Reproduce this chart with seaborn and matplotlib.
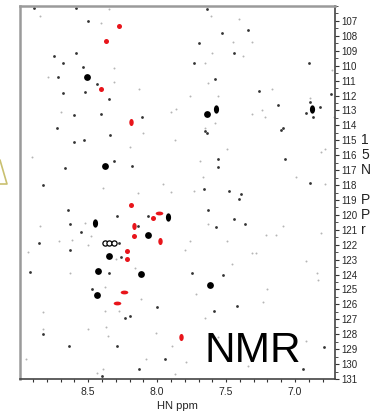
import matplotlib
matplotlib.use("Agg")
import matplotlib.pyplot as plt
import seaborn as sns
import numpy as np
from matplotlib.path import Path
from matplotlib.lines import Line2D
from matplotlib.ticker import MultipleLocator

# ------------------------------
# Peak lists (HN ppm, 15N ppm)
# ------------------------------
red_round_x = [8.28, 8.37, 8.41, 8.19, 8.03, 8.17, 8.22, 8.22]
red_round_y = [107.35, 108.33, 111.59, 119.34, 120.19, 121.43, 122.44, 122.95]
red_tall_x = [8.19, 8.17, 7.98, 7.83]
red_tall_y = [113.78, 120.74, 121.75, 128.18]
red_wide_x = [7.99, 8.24, 8.29]
red_wide_y = [119.85, 125.16, 125.88]

big_round_x = [8.51, 8.07, 8.35, 8.43, 8.12, 8.44, 7.62, 7.64, 8.38]
big_round_y = [110.79, 121.35, 122.76, 123.77, 123.96, 125.35, 124.70, 113.26, 116.70]
big_tall_x = [7.57, 6.88, 8.45, 7.92]
big_tall_y = [112.90, 112.90, 120.52, 120.12]

ring_x = [8.38, 8.35, 8.31]
ring_y = [121.86, 121.86, 121.86]

mid_x = [8.89, 8.59, 8.50, 8.59, 8.75, 8.54, 8.52, 8.60, 8.11, 7.64, 7.53, 7.70,
         7.34, 7.44, 7.73, 6.90, 6.92, 6.87, 7.26, 7.12, 8.29, 8.07, 8.14, 8.63,
         8.55, 8.63, 8.26, 7.56, 7.56, 7.07, 7.66, 7.48, 7.39, 7.41, 6.89, 7.63,
         7.44, 7.36, 7.57, 7.10, 8.92, 8.35, 8.00, 8.23, 8.20, 8.83, 8.64, 8.29,
         7.94, 8.13, 8.40, 7.75, 7.52, 7.59, 7.42, 6.79, 6.94, 8.60, 8.53, 8.34,
         8.31, 8.18, 8.67, 8.83, 8.65, 8.86, 7.09, 8.41, 8.68, 8.35, 8.68, 8.72,
         8.73, 8.47, 7.65, 7.64, 6.74, 6.89, 6.82, 7.58, 8.44, 8.28]
mid_y = [106.16, 106.16, 107.00, 109.18, 109.36, 110.10, 111.77, 113.33, 113.42, 106.23, 107.80, 108.47,
         107.62, 109.18, 109.80, 109.80, 113.20, 113.42, 111.70, 112.66, 120.05, 120.05, 120.72, 120.59,
         121.16, 122.35, 122.80, 116.23, 116.81, 116.23, 118.24, 118.42, 118.60, 118.96, 117.86, 119.70,
         120.28, 120.61, 120.79, 114.29, 123.84, 123.87, 126.15, 126.89, 126.75, 127.98, 128.76, 128.78,
         129.67, 130.32, 130.79, 123.91, 124.05, 126.42, 126.08, 128.85, 130.34, 115.14, 115.00, 114.65,
         116.39, 116.70, 116.88, 118.00, 119.70, 121.86, 114.20, 113.26, 111.86, 112.20, 109.80, 110.79,
         114.18, 124.99, 114.38, 114.50, 111.88, 112.42, 112.80, 110.88, 111.23, 121.90]

faint_x = [8.85, 8.41, 8.35, 8.31, 8.79, 8.31, 8.13, 8.70, 7.90, 7.86, 7.61, 7.41,
           7.45, 7.31, 7.60, 7.38, 7.65, 6.73, 7.63, 7.17, 7.56, 7.76, 6.89, 7.24,
           7.31, 7.22, 6.72, 7.58, 7.65, 8.10, 7.87, 8.91, 8.20, 8.39, 8.14, 7.96,
           7.90, 8.52, 8.48, 8.85, 8.71, 8.62, 8.50, 8.94, 7.49, 7.69, 6.81, 6.78,
           7.67, 6.99, 6.78, 7.73, 7.63, 7.09, 7.21, 7.14, 6.81, 7.76, 7.49, 7.80,
           7.31, 7.28, 8.30, 8.63, 8.16, 8.38, 8.12, 8.38, 8.28, 8.83, 8.83, 8.50,
           8.37, 8.36, 8.01, 7.89, 8.95, 8.08, 8.39, 8.44, 7.87, 7.46, 6.92, 6.84,
           6.83, 7.72, 7.20, 7.65, 7.23, 7.56, 6.92, 7.79, 7.34]
faint_y = [106.70, 107.17, 106.20, 110.14, 110.79, 111.10, 111.55, 113.10, 113.13, 112.90, 106.66, 106.86,
           108.42, 108.42, 109.18, 109.36, 109.80, 110.30, 111.19, 111.55, 112.00, 112.00, 112.15, 112.95,
           113.24, 113.42, 113.42, 113.87, 114.15, 114.53, 114.98, 116.10, 115.45, 118.22, 118.56, 117.95,
           118.44, 120.52, 121.39, 120.74, 121.75, 121.70, 122.02, 122.47, 115.60, 116.39, 115.77, 115.60,
           117.48, 117.48, 117.95, 118.38, 120.61, 120.74, 121.37, 121.37, 121.23, 121.72, 121.72, 122.35,
           122.57, 122.57, 122.97, 123.91, 123.58, 124.86, 125.66, 126.42, 126.42, 126.52, 127.66, 127.66,
           127.53, 128.11, 127.93, 128.78, 129.65, 129.65, 130.32, 130.63, 130.68, 123.29, 123.11, 123.91,
           124.36, 125.30, 124.99, 126.89, 125.83, 128.18, 128.45, 129.83, 130.16]

x_ticks = [8.5, 8.0, 7.5, 7.0]
x_tick_labels = ["8.5", "8.0", "7.5", "7.0"]
y_ticks = list(range(107, 132))
side_text = ["1", "5", "N", "", "P", "P", "r"]


def ellipse(w, h):
    t = np.linspace(0, 2 * np.pi, 40)
    return Path(np.column_stack([w * np.cos(t), h * np.sin(t)]), closed=True)


tall = ellipse(0.62, 1.0)
wide = ellipse(1.0, 0.5)
red = "#e8151b"

# ------------------------------
# Plot
# ------------------------------
sns.set_style("white")
plt.rcParams['font.family'] = ['Liberation Sans', 'DejaVu Sans']

fig = plt.figure(figsize=(3.71, 4.16), dpi=100)
ax = fig.add_axes([20 / 371, 1 - 379 / 416, 315 / 371, 373 / 416])

kw = dict(ax=ax, linewidth=0, legend=False)
sns.scatterplot(x=faint_x, y=faint_y, color="#b5b5b5", s=2, **kw)
sns.scatterplot(x=mid_x, y=mid_y, color="#333333", s=4, **kw)
sns.scatterplot(x=big_round_x, y=big_round_y, color="black", s=24, **kw)
sns.scatterplot(x=big_tall_x, y=big_tall_y, color="black", s=36, marker=tall, **kw)
sns.scatterplot(x=ring_x, y=ring_y, color="white", edgecolor="black", s=14,
                ax=ax, linewidth=0.9, legend=False)
sns.scatterplot(x=red_round_x, y=red_round_y, color=red, s=13, **kw)
sns.scatterplot(x=red_tall_x, y=red_tall_y, color=red, s=26, marker=tall, **kw)
sns.scatterplot(x=red_wide_x, y=red_wide_y, color=red, s=30, marker=wide, **kw)

ax.set_xlim(8.995, 6.71)
ax.set_ylim(131, 106)
ax.set_xticks(x_ticks)
ax.set_xticklabels(x_tick_labels)
ax.xaxis.set_minor_locator(MultipleLocator(0.1))
ax.set_yticks(y_ticks)
ax.yaxis.set_minor_locator(MultipleLocator(0.5))
ax.yaxis.tick_right()

ax.tick_params(axis="x", which="both", bottom=True, top=False, direction="out",
               length=2.5, width=0.8, color="#333333", labelsize=7.5, pad=3)
ax.tick_params(axis="y", which="major", right=True, left=False, direction="out",
               length=3, width=0.8, color="#333333", labelsize=7, pad=1.5)
ax.tick_params(axis="y", which="minor", right=True, left=False, direction="out",
               length=1.8, width=0.6, color="#333333")

for side in ["left", "top"]:
    ax.spines[side].set_color("#9a9a9a")
    ax.spines[side].set_linewidth(1.8)
for side in ["bottom", "right"]:
    ax.spines[side].set_color("#444444")
    ax.spines[side].set_linewidth(1.2)

ax.set_xlabel("HN ppm", fontsize=8, labelpad=3)
ax.text(0.587, 0.046, "NMR", transform=ax.transAxes, fontsize=30.5,
        ha="left", va="baseline", color="black")

# leftovers of the slide around the chart
fig.add_artist(Line2D([0, 7 / 371, 0], [1 - 160 / 416, 1 - 184 / 416, 1 - 184 / 416],
                      transform=fig.transFigure, color="#c9c070", linewidth=1.2))
for i, t in enumerate(side_text):
    fig.text(361 / 371, 1 - (140 + 15 * i) / 416, t, fontsize=10,
             ha="left", va="center", color="#222222")

fig.savefig("out.png", dpi=100)
